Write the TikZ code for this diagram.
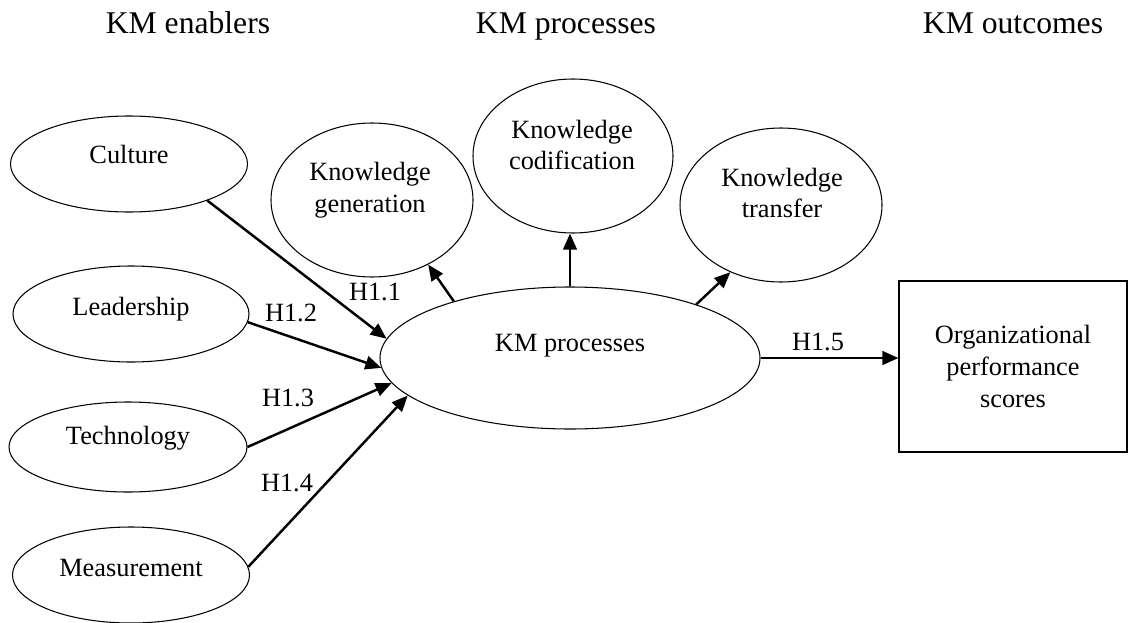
\documentclass[tikz,border=0pt]{standalone}
\usepackage{fontspec}
\setmainfont{Liberation Serif}
\usetikzlibrary{arrows.meta, shapes.geometric}
\tikzset{
  kmoval/.style 2 args={draw, ellipse, line width=.6pt, inner sep=0pt,
                        minimum width=#1*0.02cm, minimum height=#2*0.02cm},
  lbl/.style={inner sep=0pt, text height=1.5ex, text depth=.25ex},
  twoline/.style={inner sep=0pt, align=center},
  hyp/.style={line width=1.4pt, -{Triangle[length=0.32cm, width=0.27cm]}},
}

\begin{document}
\begin{tikzpicture}[x=0.02cm, y=-0.02cm, font=\fontsize{15}{18}\selectfont]
  \useasboundingbox (0,0) rectangle (1128,622);
  % column heads
  \node[lbl, font=\fontsize{18}{21}\selectfont] (head-en) at (188,28) {KM enablers};
  \node[lbl, font=\fontsize{18}{21}\selectfont] (head-pr) at (566,28) {KM processes};
  \node[lbl, font=\fontsize{18}{21}\selectfont] (head-out) at (1013,28) {KM outcomes};
  % enablers
  \node[kmoval={237}{96}] (cult) at (129,164) {};
  \node[lbl] (cult-t) at (129,158) {Culture};
  \node[kmoval={236}{96}] (lead) at (131,314) {};
  \node[lbl] (lead-t) at (131,310) {Leadership};
  \node[kmoval={238}{90}] (tech) at (128,447) {};
  \node[lbl] (tech-t) at (128,439) {Technology};
  \node[kmoval={237}{96}] (meas) at (131,575) {};
  \node[lbl] (meas-t) at (131,571) {Measurement};
  % processes
  \node[kmoval={380}{142}] (kmp) at (570,358) {};
  \node[lbl] (kmp-t) at (570,346) {KM processes};
  \node[kmoval={202}{154}] (gen) at (372,200) {};
  \node[twoline] (gen-t) at (370,190) {Knowledge\\generation};
  \node[kmoval={200}{154}] (cod) at (573,156) {};
  \node[twoline] (cod-t) at (572,145) {Knowledge\\codification};
  \node[kmoval={202}{154}] (trans) at (781,205) {};
  \node[twoline] (trans-t) at (782,193) {Knowledge\\transfer};
  % outcome
  \node[draw, line width=.6pt, inner sep=0pt, align=center,
        minimum width=228*0.02cm, minimum height=171*0.02cm] (perf) at (1013,366.5)
        {Organizational\\performance\\scores};
  % hypotheses
  \draw[hyp] (cult.-25) -- (kmp.174);
  \draw[hyp] (lead.-4) -- (kmp.-177);
  \draw[hyp] (tech.0) -- (kmp.-172);
  \draw[hyp] (meas.4) -- (kmp.-167);
  \draw[hyp] (kmp.154) -- (gen.-49);
  \draw[hyp] (kmp.north) -- (kmp.north |- cod.south);
  \draw[hyp] (kmp.23) -- (trans.-127);
  \draw[hyp] (kmp.east) -- (kmp.east -| perf.west);
  \node[lbl] (h11) at (375,295) {H1.1};
  \node[lbl] (h12) at (291,316) {H1.2};
  \node[lbl] (h13) at (288,401) {H1.3};
  \node[lbl] (h14) at (287,486) {H1.4};
  \node[lbl] (h15) at (818,345) {H1.5};
\end{tikzpicture}
\end{document}
